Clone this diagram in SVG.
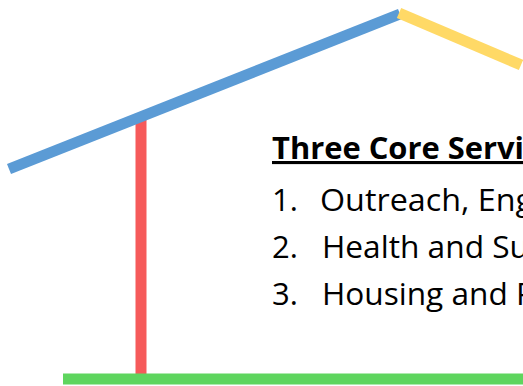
<svg xmlns="http://www.w3.org/2000/svg" width="523" height="386" viewBox="0 0 523 386">
<style>
.beam{fill:none;stroke-width:11;stroke-linecap:butt}
.t{font-family:"Open Sans","Liberation Sans",sans-serif;font-size:31px;fill:#000}
.h{font-weight:bold;text-decoration:underline}
</style>
<rect width="523" height="386" fill="#fff"/>
<g id="connectors">
<line id="post" class="beam" x1="141" y1="118" x2="141" y2="374" stroke="#F65A5A"/>
<line id="roof-left" class="beam" x1="9" y1="169" x2="400" y2="14" stroke="#5B9BD5"/>
<line id="roof-right" class="beam" x1="399" y1="13" x2="521" y2="65" stroke="#FFD966"/>
<line id="floor" class="beam" x1="63" y1="379" x2="523" y2="379" stroke="#5ED55E"/>
</g>
<g id="text">
<text class="t h" x="272" y="159" textLength="252" lengthAdjust="spacingAndGlyphs">Three Core Servi</text>
<text class="t" x="272" y="211">1.</text>
<text class="t" x="320" y="211" textLength="213" lengthAdjust="spacingAndGlyphs">Outreach, Eng</text>
<text class="t" x="272" y="258">2.</text>
<text class="t" x="322" y="258" textLength="207" lengthAdjust="spacingAndGlyphs">Health and Su</text>
<text class="t" x="272" y="305">3.</text>
<text class="t" x="322" y="305" textLength="213" lengthAdjust="spacingAndGlyphs">Housing and P</text>
</g>
</svg>
